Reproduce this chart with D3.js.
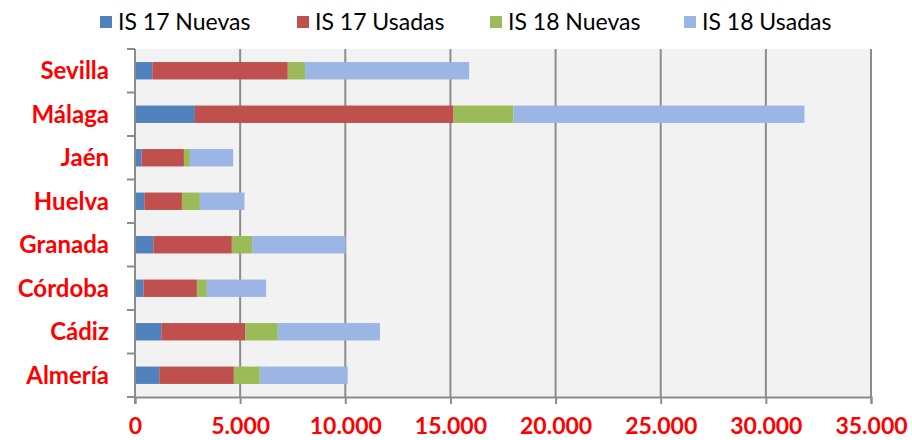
<!DOCTYPE html>
<meta charset="utf-8">
<style>
body { margin: 0; background: #fff; }
text { font-family: Lato, "Open Sans", sans-serif; }
</style>
<body>
<script src="https://d3js.org/d3.v7.min.js"></script>
<script>

let provincias = ['Sevilla', 'Málaga', 'Jaén', 'Huelva', 'Granada', 'Córdoba', 'Cádiz', 'Almería'];
let series = ['IS 17 Nuevas', 'IS 17 Usadas', 'IS 18 Nuevas', 'IS 18 Usadas'];
let is17Nuevas = [823, 2849, 318, 442, 870, 413, 1250, 1155];
let is17Usadas = [6442, 12300, 2009, 1790, 3736, 2531, 4006, 3546];
let is18Nuevas = [823, 2850, 285, 854, 965, 475, 1534, 1234];
let is18Usadas = [7803, 13836, 2056, 2123, 4448, 2816, 4858, 4179];
let xTicks = [0, 5000, 10000, 15000, 20000, 25000, 30000, 35000];
let colores = ['#4f81bd', '#c0504d', '#9bbb59', '#9bb5e4'];

let width = 912, height = 440;
let pLeft = 135, pRight = 871, pTop = 49, pBottom = 397;

let rows = provincias.map((p, i) => ({
	prov: p,
	'IS 17 Nuevas': is17Nuevas[i],
	'IS 17 Usadas': is17Usadas[i],
	'IS 18 Nuevas': is18Nuevas[i],
	'IS 18 Usadas': is18Usadas[i]
}));

let stacked = d3.stack().keys(series)(rows);

let x = d3.scaleLinear().domain([0, 35000]).range([pLeft, pRight]);
let y = d3.scaleBand().domain(provincias).range([pTop, pBottom]).paddingInner(0.6).paddingOuter(0.3);
let color = d3.scaleOrdinal().domain(series).range(colores);
let fmt = d => d3.format(',')(d).replace(/,/g, '.');

let svg = d3.select('body').append('svg')
	.attr('width', width)
	.attr('height', height);

// fondo del area
svg.append('rect')
	.attr('x', pLeft).attr('y', pTop)
	.attr('width', pRight - pLeft).attr('height', pBottom - pTop)
	.attr('fill', '#f2f2f2');

// rejilla vertical
svg.selectAll('.grid').data(xTicks.slice(1))
	.enter().append('line')
	.attr('x1', d => x(d)).attr('x2', d => x(d))
	.attr('y1', pTop).attr('y2', pBottom)
	.attr('stroke', '#8c8c8c').attr('stroke-width', 2);

// barras apiladas
svg.selectAll('.serie').data(stacked)
	.enter().append('g')
	.attr('fill', d => color(d.key))
	.selectAll('rect').data(d => d)
	.enter().append('rect')
	.attr('x', d => x(d[0]))
	.attr('y', d => y(d.data.prov))
	.attr('width', d => x(d[1]) - x(d[0]))
	.attr('height', y.bandwidth());

// eje x
let xAxis = svg.append('g')
	.attr('transform', 'translate(0,' + pBottom + ')')
	.call(d3.axisBottom(x).tickValues(xTicks).tickFormat(fmt).tickSize(7).tickPadding(14));
xAxis.select('.domain').attr('stroke', '#8c8c8c').attr('stroke-width', 2);
xAxis.selectAll('.tick line').attr('stroke', '#8c8c8c').attr('stroke-width', 2);
xAxis.selectAll('text')
	.attr('fill', '#ff0000')
	.style('font-size', '23px')
	.style('font-weight', 'bold');

// eje y
svg.append('line')
	.attr('x1', pLeft).attr('x2', pLeft)
	.attr('y1', pTop).attr('y2', pBottom + 7)
	.attr('stroke', '#8c8c8c').attr('stroke-width', 2);
svg.selectAll('.ytick').data(provincias.map((p, i) => pTop + i * (pBottom - pTop) / provincias.length).concat([pBottom]))
	.enter().append('line')
	.attr('x1', pLeft - 8).attr('x2', pLeft)
	.attr('y1', d => d).attr('y2', d => d)
	.attr('stroke', '#8c8c8c').attr('stroke-width', 2);

svg.selectAll('.ylabel').data(provincias)
	.enter().append('text')
	.attr('x', 109)
	.attr('y', d => y(d) + y.bandwidth() / 2)
	.attr('dy', '0.35em')
	.attr('text-anchor', 'end')
	.attr('fill', '#ff0000')
	.style('font-size', '24px')
	.style('font-weight', 'bold')
	.text(d => d);

// leyenda
let legendX = [100, 297, 490, 684];
let legend = svg.selectAll('.leg').data(series)
	.enter().append('g')
	.attr('transform', (d, i) => 'translate(' + legendX[i] + ',22)');
legend.append('rect')
	.attr('x', 0).attr('y', -6)
	.attr('width', 12).attr('height', 12)
	.attr('fill', d => color(d));
legend.append('text')
	.attr('x', 18)
	.attr('dy', '0.35em')
	.attr('fill', '#000')
	.style('font-size', '23px')
	.text(d => d);

</script>
</body>
